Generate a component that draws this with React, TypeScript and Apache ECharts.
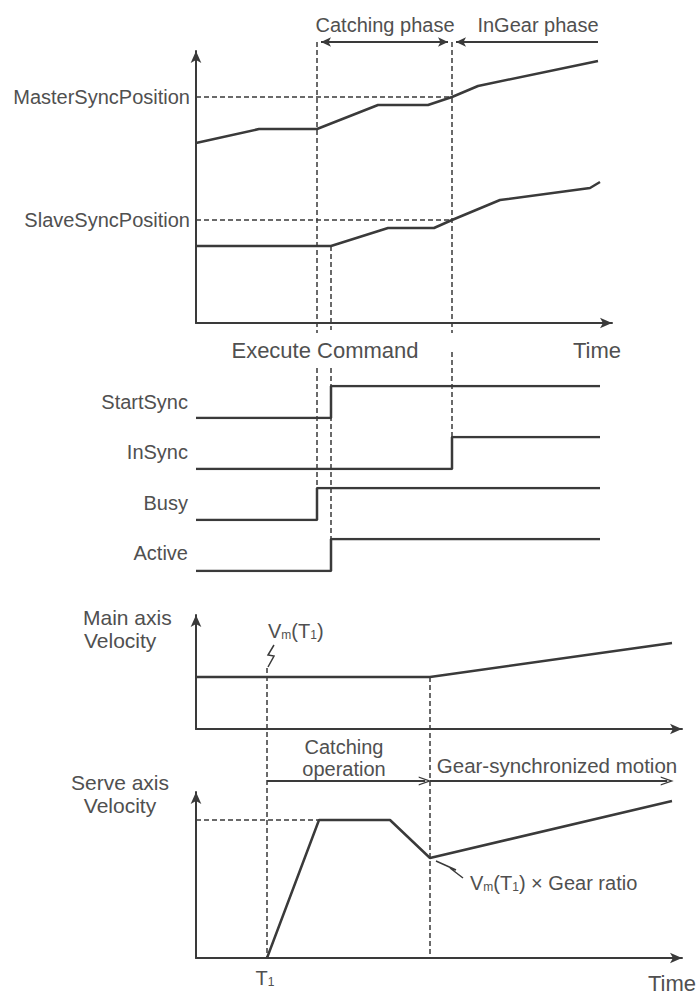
import React, { useEffect, useRef } from 'react';
import * as echarts from 'echarts';

const INK = '#3a3a3a';
const TXT = '#505050';
const FONT = 'Liberation Sans';

// ---------- Panel 1: positions (time units / position units) ----------
const masterPos = [[0, 45], [15.75, 48.5], [30.25, 48.5], [45.5, 54.5], [58, 54.5], [64, 56.5], [70.5, 59.25], [100.5, 65.5]];
const slavePos = [[0, 19.25], [33.75, 19.25], [48, 23.75], [59.5, 23.75], [64, 25.75], [76, 30.75], [98.5, 33.75], [101, 35.25]];
const masterSyncPos = 56.5;
const slaveSyncPos = 25.75;
const posLabels = ['MasterSyncPosition', 'SlaveSyncPosition'];
const phaseLabels = ['Catching phase', 'InGear phase'];
const tExecute = 30.25;
const tStartSync = 33.75;
const tInSync = 64;
const tPhaseEnd = 100.5;

// ---------- Panel 2: status signals (0 = low, 1 = high) ----------
const signalNames = ['StartSync', 'InSync', 'Busy', 'Active'];
const startSyncSig = [[0, 0], [33.75, 0], [33.75, 1], [101, 1]];
const inSyncSig = [[0, 0], [64, 0], [64, 1], [101, 1]];
const busySig = [[0, 0], [30.25, 0], [30.25, 1], [101, 1]];
const activeSig = [[0, 0], [33.75, 0], [33.75, 1], [101, 1]];
const topTexts = ['Execute Command', 'Time'];

// ---------- Panels 3/4: velocities ----------
const mainVel = [[0, 13], [58.5, 13], [119, 21.5]];
const serveVel = [[17.75, 0], [30.75, 34.5], [48.5, 34.5], [58.5, 25], [119, 39.25]];
const servePeak = 34.5;
const tT1 = 17.75;
const tGear = 58.5;
const tMotionEnd = 119;
const vmPointer = [[19.5, 21], [18, 18.5], [19.5, 18.25], [18, 15.5]];
const gearPointer = [[66.75, 20], [63.5, 22.5], [65, 22], [60, 24.25]];
const mainAxisTitle = ['Main axis', 'Velocity'];
const serveAxisTitle = ['Serve axis', 'Velocity'];
const motionLabels = ['Catching', 'operation', 'Gear-synchronized motion'];
const bottomTime = 'Time';

// overlay levels (overlay-grid units)
const phaseArrowLevel = 139.5;
const motionArrowLevel = 53.75;

const visibleAxis = (gridIndex: number, max: number) => ({
  gridIndex, type: 'value', min: 0, max,
  axisLine: { show: true, onZero: false, symbol: ['none', 'arrow'], symbolSize: [8, 12], lineStyle: { color: INK, width: 2 } },
  axisTick: { show: false }, axisLabel: { show: false }, splitLine: { show: false },
});
const hiddenAxis = (gridIndex: number, max: number) => ({ gridIndex, type: 'value', min: 0, max, show: false, splitLine: { show: false } });

const lineSeries = (idx: number, data: number[][], extra: any = {}) => ({
  type: 'line', xAxisIndex: idx, yAxisIndex: idx, data, symbol: 'none', silent: true,
  lineStyle: { color: INK, width: 2.5 }, ...extra,
});

const dashed = { type: [5, 3], color: INK, width: 1.5 };
const chevron = 'path://M0,12 L6,0 L12,12 L10.2,12 L6,3.6 L1.8,12 Z';

const txt = (text: string, x: number, y: number, align: string, size: number, extra: any = {}) => ({
  type: 'text', x, y, silent: true,
  style: {
    text, fill: TXT, fontSize: size, fontFamily: FONT,
    textAlign: align, align, textVerticalAlign: 'middle', verticalAlign: 'middle', ...extra,
  },
});
const sub = (size: number) => ({
  n: { fontSize: size, fontFamily: FONT, color: TXT, lineHeight: size + 2, verticalAlign: 'bottom' },
  s: { fontSize: Math.round(size * 0.6), fontFamily: FONT, color: TXT, lineHeight: size + 2, verticalAlign: 'bottom' },
});

export default function App() {
  const ref = useRef<HTMLDivElement>(null);
  useEffect(() => {
    if (!ref.current) return;
    const chart = echarts.init(ref.current, undefined, { renderer: 'svg' });
    const sigTops = [386, 437, 488, 539];
    const grids = [
      { left: 196, top: 51, width: 416, height: 272 },
      ...sigTops.map((t) => ({ left: 196, top: t, width: 416, height: 32 })),
      { left: 196, top: 0, width: 416, height: 600 },
      { left: 196, top: 615, width: 486, height: 114 },
      { left: 196, top: 792, width: 486, height: 166 },
      { left: 196, top: 600, width: 486, height: 396 },
    ];
    const signals = [startSyncSig, inSyncSig, busySig, activeSig];
    const option: any = {
      animation: false,
      backgroundColor: '#ffffff',
      grid: grids,
      xAxis: [
        visibleAxis(0, 104),
        hiddenAxis(1, 104), hiddenAxis(2, 104), hiddenAxis(3, 104), hiddenAxis(4, 104), hiddenAxis(5, 104),
        visibleAxis(6, 121.5), visibleAxis(7, 121.5), hiddenAxis(8, 121.5),
      ],
      yAxis: [
        visibleAxis(0, 68),
        hiddenAxis(1, 1), hiddenAxis(2, 1), hiddenAxis(3, 1), hiddenAxis(4, 1), hiddenAxis(5, 150),
        visibleAxis(6, 28.5), visibleAxis(7, 41.5), hiddenAxis(8, 99),
      ],
      series: [
        lineSeries(0, masterPos, {
          markLine: {
            silent: true, symbol: 'none', lineStyle: dashed,
            label: { show: true, position: 'start', formatter: posLabels[0], color: TXT, fontSize: 20, fontFamily: FONT, distance: 6 },
            data: [[{ coord: [0, masterSyncPos] }, { coord: [tInSync, masterSyncPos] }]],
          },
        }),
        lineSeries(0, slavePos, {
          markLine: {
            silent: true, symbol: 'none', lineStyle: dashed,
            label: { show: true, position: 'start', formatter: posLabels[1], color: TXT, fontSize: 20, fontFamily: FONT, distance: 6 },
            data: [[{ coord: [0, slaveSyncPos] }, { coord: [tInSync, slaveSyncPos] }]],
          },
        }),
        ...signals.map((s, i) => lineSeries(i + 1, s)),
        // overlay: guide lines for panels 1-2
        {
          type: 'line', xAxisIndex: 5, yAxisIndex: 5, data: [], silent: true,
          markLine: {
            silent: true, symbol: 'none', lineStyle: dashed, label: { show: false },
            data: [
              [{ coord: [tExecute, phaseArrowLevel] }, { coord: [tExecute, 66.75] }],
              [{ coord: [tStartSync, 88.5] }, { coord: [tStartSync, 67.5] }],
              [{ coord: [tInSync, phaseArrowLevel] }, { coord: [tInSync, 66.75] }],
              [{ coord: [tExecute, 58] }, { coord: [tExecute, 28] }],
              [{ coord: [tStartSync, 58] }, { coord: [tStartSync, 15.25] }],
              [{ coord: [tInSync, 62] }, { coord: [tInSync, 40.75] }],
            ],
          },
        },
        {
          type: 'line', xAxisIndex: 5, yAxisIndex: 5, data: [], silent: true,
          markLine: {
            silent: true, symbol: ['arrow', 'arrow'], symbolSize: [7, 10],
            lineStyle: { type: 'solid', color: INK, width: 2 }, label: { show: false },
            data: [
              [{ coord: [tExecute + 1, phaseArrowLevel] }, { coord: [tInSync - 1, phaseArrowLevel] }],
              [{ coord: [tPhaseEnd, phaseArrowLevel], symbol: 'none' }, { coord: [tInSync + 1, phaseArrowLevel], symbol: 'arrow' }],
            ],
          },
        },
        // panels 3-4
        lineSeries(6, mainVel),
        lineSeries(7, serveVel, {
          markLine: {
            silent: true, symbol: 'none', lineStyle: dashed, label: { show: false },
            data: [[{ coord: [0, servePeak] }, { coord: [30.75, servePeak] }]],
          },
        }),
        {
          type: 'line', xAxisIndex: 8, yAxisIndex: 8, data: [], silent: true,
          markLine: {
            silent: true, symbol: 'none', lineStyle: dashed, label: { show: false },
            data: [
              [{ coord: [tT1, 82] }, { coord: [tT1, 9.75] }],
              [{ coord: [tGear, 79.75] }, { coord: [tGear, 9.5] }],
            ],
          },
        },
        {
          type: 'line', xAxisIndex: 8, yAxisIndex: 8, data: [], silent: true,
          markLine: {
            silent: true, symbol: ['none', chevron], symbolSize: [9, 13],
            lineStyle: { type: 'solid', color: INK, width: 2 }, label: { show: false },
            data: [
              [{ coord: [tT1, motionArrowLevel] }, { coord: [tGear - 1.2, motionArrowLevel] }],
              [{ coord: [tGear, motionArrowLevel] }, { coord: [tMotionEnd - 1.2, motionArrowLevel] }],
            ],
          },
        },
        {
          type: 'lines', coordinateSystem: 'cartesian2d', xAxisIndex: 6, yAxisIndex: 6, polyline: true, silent: true,
          symbol: ['none', 'arrow'], symbolSize: 6,
          lineStyle: { color: INK, width: 1.5, opacity: 1 },
          data: [{ coords: vmPointer }],
        },
        {
          type: 'lines', coordinateSystem: 'cartesian2d', xAxisIndex: 7, yAxisIndex: 7, polyline: true, silent: true,
          symbol: ['none', 'arrow'], symbolSize: 6,
          lineStyle: { color: INK, width: 1.5, opacity: 1 },
          data: [{ coords: gearPointer }],
        },
      ],
      graphic: [
        txt(phaseLabels[0], 385, 25, 'center', 20),
        txt(phaseLabels[1], 538, 25, 'center', 20),
        txt(topTexts[0], 325, 350, 'center', 22),
        txt(topTexts[1], 597, 350, 'center', 22),
        txt(signalNames[0], 188, 402, 'right', 20),
        txt(signalNames[1], 188, 452, 'right', 20),
        txt(signalNames[2], 188, 503, 'right', 20),
        txt(signalNames[3], 188, 553, 'right', 20),
        txt(mainAxisTitle[0], 83, 617, 'left', 21),
        txt(mainAxisTitle[1], 84, 640, 'left', 21),
        txt(serveAxisTitle[0], 120, 782, 'center', 21),
        txt(serveAxisTitle[1], 120, 805, 'center', 21),
        txt('{n|V}{s|m}{n|(T}{s|1}{n|)}', 268, 630, 'left', 20, { rich: sub(20) }),
        txt(motionLabels[0], 344, 747, 'center', 20),
        txt(motionLabels[1], 344, 769, 'center', 20),
        txt(motionLabels[2], 557, 765, 'center', 20.5),
        txt('{n|V}{s|m}{n|(T}{s|1}{n|) × Gear ratio}', 470, 882, 'left', 20, { rich: sub(20) }),
        txt('{n|T}{s|1}', 265, 977, 'center', 20, { rich: sub(20) }),
        txt(bottomTime, 672, 983, 'center', 22),
      ],
    };
    chart.setOption(option);
    return () => chart.dispose();
  }, []);
  return <div ref={ref} style={{ position: 'fixed', left: 0, top: 0, width: 700, height: 996, background: '#fff' }} />;
}
